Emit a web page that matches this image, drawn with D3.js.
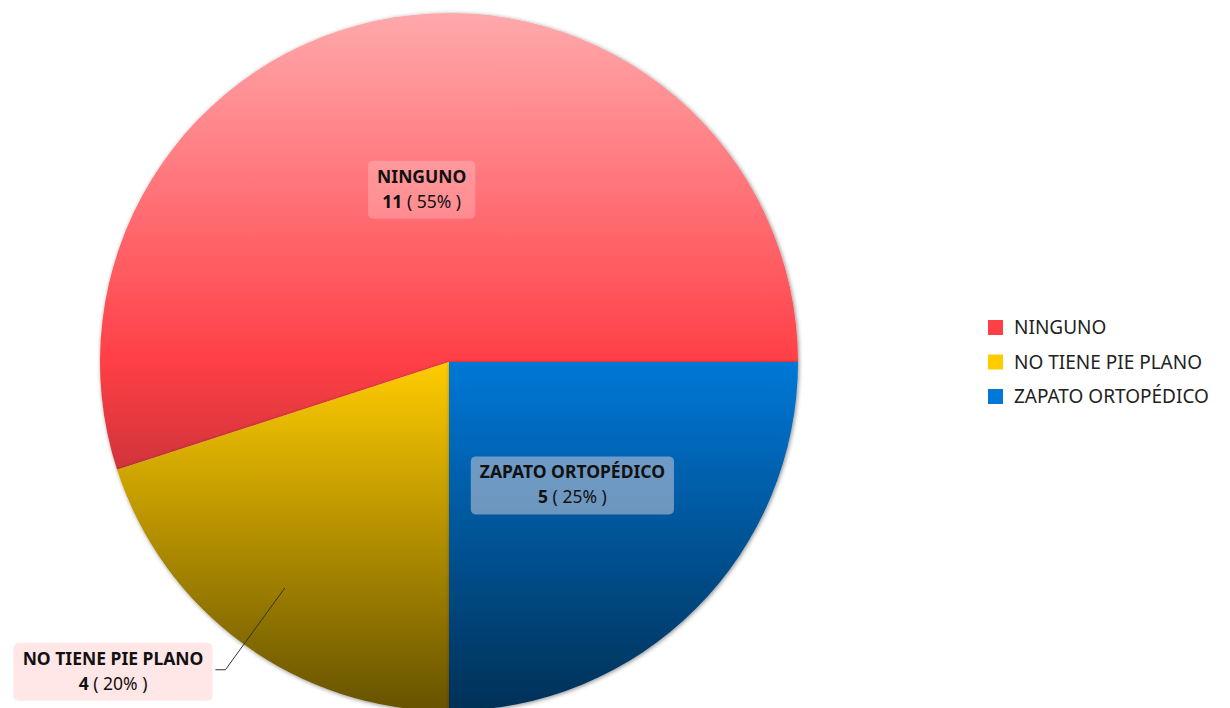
<!DOCTYPE html>
<html>
<head>
<meta charset="utf-8">
<script src="https://cdn.jsdelivr.net/npm/d3@7"></script>
<style>
  html, body { margin: 0; padding: 0; background: #fff; }
  svg { display: block; font-family: "Noto Sans", "Open Sans", sans-serif; }
</style>
</head>
<body>
<svg id="chart" width="1230" height="708"></svg>
<script>
// Respuestas por categoría
const categories = ["NINGUNO", "NO TIENE PIE PLANO", "ZAPATO ORTOPÉDICO"];
const counts = [11, 4, 5];
const baseColors = ["#ff3f46", "#ffcc00", "#0078d7"];

const W = 1230, H = 708;
const cx = 449, cy = 362, R = 349;

const svg = d3.select("#chart");
const defs = svg.append("defs");

// soft shadow under every slice
const shadow = defs.append("filter").attr("id", "sliceShadow")
  .attr("x", "-10%").attr("y", "-10%").attr("width", "120%").attr("height", "120%");
shadow.append("feDropShadow").attr("dx", 1).attr("dy", 1)
  .attr("stdDeviation", 2).attr("flood-color", "#000").attr("flood-opacity", 0.45);

// vertical gradient across the whole pie (group coordinates):
// light at the top, base colour at the centre, dark at the bottom
baseColors.forEach((c, i) => {
  const gr = defs.append("linearGradient").attr("id", "grad" + i)
    .attr("gradientUnits", "userSpaceOnUse")
    .attr("x1", 0).attr("y1", -R).attr("x2", 0).attr("y2", R);
  gr.append("stop").attr("offset", "0%").attr("stop-color", d3.interpolateRgb(c, "#ffffff")(0.55));
  gr.append("stop").attr("offset", "50%").attr("stop-color", c);
  gr.append("stop").attr("offset", "100%").attr("stop-color", d3.interpolateRgb(c, "#000000")(0.6));
});

const data = categories.map((name, i) => ({ name, value: counts[i], i }));
const total = d3.sum(counts);

// counter-clockwise from 3 o'clock
const pie = d3.pie().value(d => d.value).sort(null)
  .startAngle(Math.PI / 2).endAngle(Math.PI / 2 - 2 * Math.PI);
const arcs = pie(data);
const arc = d3.arc().innerRadius(0).outerRadius(R);

const g = svg.append("g").attr("transform", `translate(${cx},${cy})`);

g.selectAll("path.slice").data(arcs).join("path")
  .attr("class", "slice")
  .attr("d", arc)
  .attr("fill", d => `url(#grad${d.data.i})`)
  .attr("filter", "url(#sliceShadow)");

const pct = v => Math.round(v / total * 100);
const mid = d => (d.startAngle + d.endAngle) / 2;
const polar = (a, r) => [Math.sin(a) * r, -Math.cos(a) * r];

// label styles per slice
const boxFill = ["rgba(255,255,255,0.22)", "#ffe6e7", "rgba(200,200,215,0.55)"];
const outside = [false, true, false];
const labelFont = 17.5;

function drawLabel(parent, d, x, y) {
  const lg = parent.append("g").attr("transform", `translate(${x},${y})`);
  const rect = lg.append("rect");
  const t = lg.append("text").attr("text-anchor", "middle")
    .attr("font-size", labelFont).attr("fill", "#111");
  t.append("tspan").attr("x", 0).attr("y", -7).attr("font-weight", "bold")
    .text(d.data.name);
  const l2 = t.append("tspan").attr("x", 0).attr("y", 18);
  l2.append("tspan").attr("font-weight", "bold").text(d.data.value);
  l2.append("tspan").text(` ( ${pct(d.data.value)}% )`);
  const bb = t.node().getBBox();
  const padX = 9;
  rect.attr("x", bb.x - padX).attr("y", -29).attr("width", bb.width + 2 * padX)
    .attr("height", 58).attr("rx", 5).attr("fill", boxFill[d.data.i]);
  return bb.width + 2 * padX;
}

arcs.forEach(d => {
  const a = mid(d);
  if (!outside[d.data.i]) {
    const [x, y] = polar(a, R * 0.5);
    drawLabel(g, d, x, y);
  } else {
    const p1 = polar(a, R * 0.8);
    const p2 = polar(a, R * 1.09);
    const p3 = [p2[0] - 10, p2[1]];
    g.append("polyline")
      .attr("points", [p1, p2, p3].map(p => p.join(",")).join(" "))
      .attr("fill", "none").attr("stroke", "#333").attr("stroke-width", 1);
    // measure first, then place box so its right edge sits at the line end
    const tmp = g.append("g");
    const w = drawLabel(tmp, d, 0, 0);
    tmp.attr("transform", `translate(${p3[0] - 3 - w / 2},${p3[1] + 2})`);
  }
});

// legend
const legend = svg.append("g").attr("transform", "translate(988,327)");
const rows = legend.selectAll("g").data(data).join("g")
  .attr("transform", (d, i) => `translate(0,${i * 34.5})`);
rows.append("rect").attr("x", 0).attr("y", -7).attr("width", 15).attr("height", 15)
  .attr("fill", d => baseColors[d.i]);
rows.append("text").attr("x", 26).attr("y", 7)
  .attr("font-size", 19).attr("fill", "#222").text(d => d.name);
</script>
</body>
</html>
